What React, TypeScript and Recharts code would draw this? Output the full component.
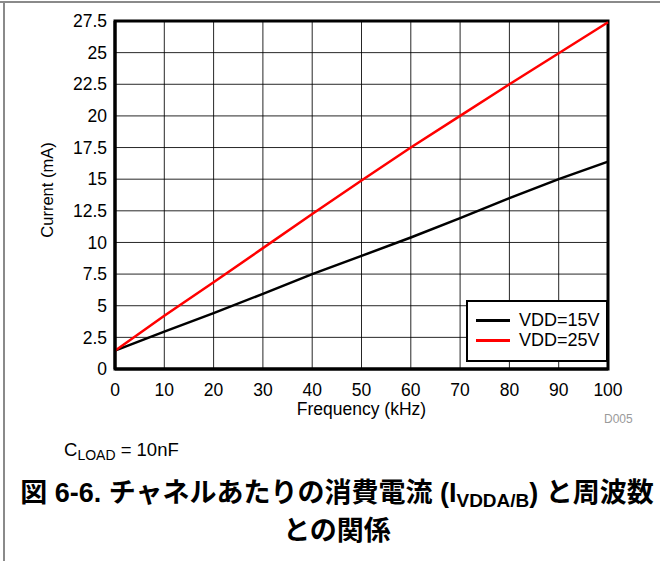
import React from 'react';
import { LineChart, Line, XAxis, YAxis, CartesianGrid, Legend, ReferenceArea } from 'recharts';

const frequencyKHz = [0, 10, 20, 30, 40, 50, 60, 70, 80, 90, 100];
const vdd15 = [1.45, 2.95, 4.42, 5.94, 7.5, 8.94, 10.39, 11.92, 13.5, 15.0, 16.39];
const vdd25 = [1.45, 4.2, 6.85, 9.55, 12.25, 14.9, 17.5, 20.0, 22.5, 24.95, 27.4];
const xTicks = [0, 10, 20, 30, 40, 50, 60, 70, 80, 90, 100];
const yTicks = [0, 2.5, 5, 7.5, 10, 12.5, 15, 17.5, 20, 22.5, 25, 27.5];
const seriesNames = ['VDD=15V', 'VDD=25V'];
const seriesColors = ['#000000', '#ff0000'];

const data = frequencyKHz.map((f, i) => ({ f, a: vdd15[i], b: vdd25[i] }));

const FONT = "'Liberation Sans', Arial, Helvetica, sans-serif";

const LegendBox = (props: any) => {
  const payload = props.payload || [];
  return (
    <div
      style={{
        position: 'relative',
        width: 142,
        height: 62,
        boxSizing: 'border-box',
        border: '2.5px solid #000',
        background: '#fff',
        fontFamily: FONT,
      }}
    >
      {payload.map((p: any, i: number) => (
        <div key={i} style={{ position: 'absolute', left: 0, top: 8 + i * 20, height: 20, width: 140 }}>
          <div
            style={{
              position: 'absolute',
              left: 8,
              top: 9,
              width: 34,
              height: 3,
              background: p.color,
            }}
          />
          <span
            style={{
              position: 'absolute',
              left: 51,
              top: 0,
              lineHeight: '20px',
              fontSize: 18,
              color: '#000',
              whiteSpace: 'nowrap',
            }}
          >
            {p.value}
          </span>
        </div>
      ))}
    </div>
  );
};

export default function App() {
  return (
    <div style={{ position: 'absolute', left: 0, top: 0, width: 660, height: 561, background: '#fff', fontFamily: FONT }}>
      <div style={{ position: 'absolute', left: 0, top: 1, width: 660, height: 2, background: '#8a8a8a' }} />
      <div style={{ position: 'absolute', left: 3, top: 1, width: 2, height: 560, background: '#8a8a8a' }} />
      <div style={{ position: 'absolute', left: 0, top: 0 }}>
        <LineChart
          width={660}
          height={440}
          data={data}
          margin={{ top: 21, right: 52, left: 55, bottom: 41 }}
          style={{ fontFamily: FONT }}
        >
          <CartesianGrid stroke="#000" strokeWidth={1} strokeOpacity={0.85} />
          <XAxis
            dataKey="f"
            type="number"
            domain={[0, 100]}
            ticks={xTicks}
            interval={0}
            height={30}
            tickSize={0}
            tickMargin={15}
            tickLine={false}
            axisLine={{ stroke: '#000', strokeWidth: 3 }}
            tick={{ fill: '#000', fontSize: 17.5 }}
            label={{ value: 'Frequency (kHz)', position: 'bottom', offset: 4, fill: '#000', fontSize: 17.5 }}
          />
          <YAxis
            type="number"
            domain={[0, 27.5]}
            ticks={yTicks}
            interval={0}
            width={60}
            tickSize={0}
            tickMargin={8}
            tickLine={false}
            axisLine={{ stroke: '#000', strokeWidth: 3 }}
            tick={{ fill: '#000', fontSize: 17.5 }}
            label={{ value: 'Current (mA)', angle: -90, position: 'center', dx: -38, dy: -5, fill: '#000', fontSize: 16.5 }}
          />
          <ReferenceArea x1={0} x2={100} y1={0} y2={27.5} fill="none" stroke="#000" strokeWidth={3} ifOverflow="visible" />
          <Line
            dataKey="a"
            name={seriesNames[0]}
            stroke={seriesColors[0]}
            strokeWidth={2.5}
            dot={false}
            isAnimationActive={false}
          />
          <Line
            dataKey="b"
            name={seriesNames[1]}
            stroke={seriesColors[1]}
            strokeWidth={2.5}
            dot={false}
            isAnimationActive={false}
          />
          <Legend
            layout="vertical"
            align="center"
            verticalAlign="middle"
            content={<LegendBox />}
            wrapperStyle={{ position: 'absolute', left: 466, top: 300, width: 142, height: 62, margin: 0 }}
          />
        </LineChart>
      </div>
      <div style={{ position: 'absolute', left: 604, top: 412, fontSize: 12, lineHeight: '14px', color: '#9a9a9a' }}>D005</div>
      <div style={{ position: 'absolute', left: 64, top: 440, fontSize: 18.5, lineHeight: '20px', color: '#000', whiteSpace: 'nowrap' }}>
        C<span style={{ fontSize: 14, verticalAlign: '-4px', lineHeight: 0 }}>LOAD</span> = 10nF
      </div>
      <div
        style={{
          position: 'absolute',
          left: 0,
          top: 474,
          width: 674,
          textAlign: 'center',
          fontSize: 27,
          fontWeight: 'bold',
          lineHeight: '38px',
          color: '#000',
          fontFamily: "'Liberation Sans', 'Noto Sans CJK JP', sans-serif",
        }}
      >
        <div style={{ whiteSpace: 'nowrap' }}>
          図 6-6. チャネルあたりの消費電流 (I<span style={{ fontSize: 19, verticalAlign: '-5px', lineHeight: 0 }}>VDDA/B</span>) と周波数
        </div>
        <div>との関係</div>
      </div>
    </div>
  );
}
